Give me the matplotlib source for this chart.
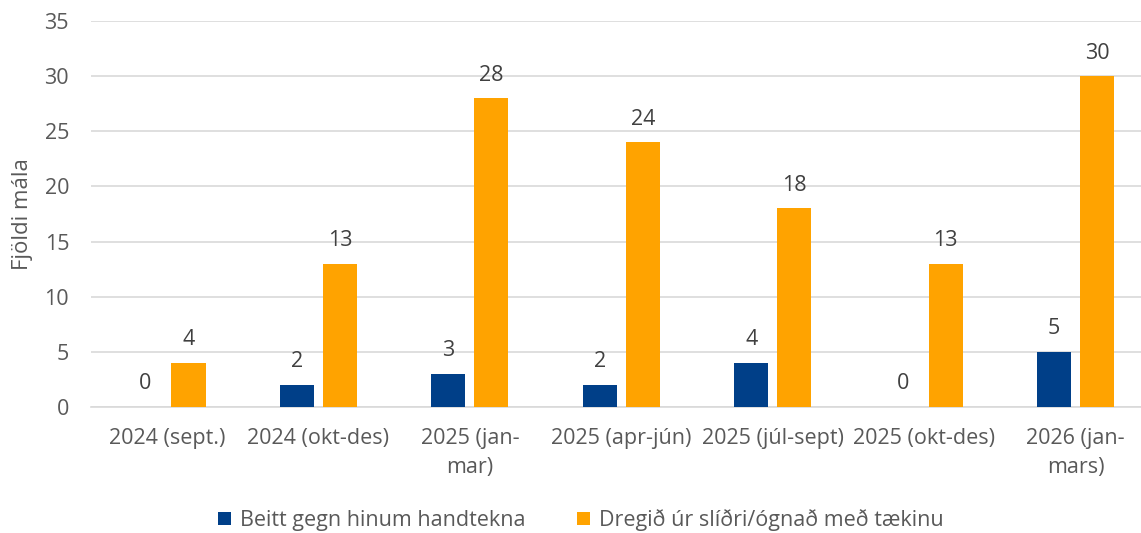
import matplotlib
matplotlib.use("Agg")
import matplotlib.pyplot as plt
import numpy as np

categories = ["2024 (sept.)", "2024 (okt-des)", "2025 (jan-\nmar)", "2025 (apr-jún)",
              "2025 (júl-sept)", "2025 (okt-des)", "2026 (jan-\nmars)"]
beitt = [0, 2, 3, 2, 4, 0, 5]
dregid = [4, 13, 28, 24, 18, 13, 30]
series_names = ["Beitt gegn hinum handtekna", "Dregið úr slíðri/ógnað með tækinu"]
colors = ["#003F88", "#FFA300"]
text_color = "#595959"

plt.rcParams['font.family'] = ['Open Sans', 'DejaVu Sans']
FS = 15.5

fig = plt.figure(figsize=(11.41, 5.33), dpi=100)
ax = fig.add_axes([0.0800, 0.2364, 0.929, 0.7242])

x = np.arange(len(categories))
w = 0.225
off = 0.142
b1 = ax.bar(x - off, beitt, w, color=colors[0], label=series_names[0], zorder=3)
b2 = ax.bar(x + off, dregid, w, color=colors[1], label=series_names[1], zorder=3)

for bars, vals in ((b1, beitt), (b2, dregid)):
    for rect, v in zip(bars, vals):
        ax.annotate(str(v), (rect.get_x() + rect.get_width() / 2, v),
                    xytext=(0, 9), textcoords="offset points",
                    ha="center", va="bottom", fontsize=FS, color="#404040")

ax.set_xlim(-0.5, len(categories) - 0.5)
ax.set_ylim(0, 35)
ax.set_yticks(range(0, 36, 5))
ax.yaxis.grid(True, color="#D9D9D9", linewidth=1.2, zorder=0)
ax.set_axisbelow(True)
for s in ["top", "right", "left"]:
    ax.spines[s].set_visible(False)
ax.spines["bottom"].set_color("#D9D9D9")
ax.spines["bottom"].set_linewidth(1.2)
ax.tick_params(axis="both", length=0, labelsize=FS, colors=text_color)
ax.tick_params(axis="y", pad=16)
ax.tick_params(axis="x", pad=15)
ax.set_xticks(x)
ax.set_xticklabels(categories, linespacing=1.5)
ax.set_ylabel("Fjöldi mála", fontsize=FS + 0.5, color=text_color, labelpad=8)

leg = fig.legend(loc="center", bbox_to_anchor=(0.509, 1 - 520 / 533), ncol=2, frameon=False,
                 fontsize=FS, handlelength=0.6, handleheight=0.6, handletextpad=0.4,
                 columnspacing=2.4, borderaxespad=0, borderpad=0)
for t in leg.get_texts():
    t.set_color(text_color)

fig.savefig("out.png", dpi=100)
